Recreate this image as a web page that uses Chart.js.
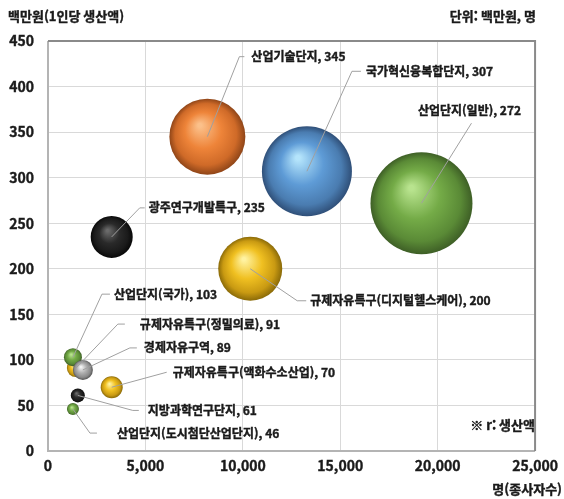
<!DOCTYPE html>
<html lang="ko">
<head>
<meta charset="utf-8">
<title>종사자수 대비 1인당 생산액</title>
<script src="https://cdn.jsdelivr.net/npm/chart.js@4.4.1/dist/chart.umd.min.js"></script>
<style>
  html, body { margin: 0; padding: 0; background: #fff; }
  .wrap { width: 564px; height: 499px; }
</style>
</head>
<body>
<div class="wrap"><canvas id="bubbleChart" width="564" height="499"></canvas></div>
<script>
// 데이터
const names = [
  "산업단지(일반)", "국가혁신융복합단지", "산업기술단지", "규제자유특구(디지털헬스케어)",
  "광주연구개발특구", "규제자유특구(액화수소산업)", "규제자유특구(정밀의료)",
  "산업단지(국가)", "경제자유구역", "지방과학연구단지", "산업단지(도시첨단산업단지)"
];
const workers = [19170, 13290, 8180, 10380, 3270, 3270, 1430, 1280, 1790, 1530, 1280];
const perCapita = [272, 307, 345, 200, 235, 70, 91, 103, 89, 61, 46];
const output = [51, 45, 38, 32, 21, 11, 9, 9, 10, 7, 6];
const groups = ["green", "blue", "orange", "yellow", "black", "yellow", "yellow", "green", "gray", "black", "green"];

const xTicks = [0, 5000, 10000, 15000, 20000, 25000];
const yTicks = [0, 50, 100, 150, 200, 250, 300, 350, 400, 450];

// 색상: 밝은 부분, 기본, 가장자리, 어두운 부분
const palette = {
  green:  ["#b8e38e", "#74ab47", "#5a8a36", "#3e5f26"],
  blue:   ["#b4e4fb", "#5e9bd6", "#4a7cb0", "#2f4f78"],
  orange: ["#fbc08a", "#ee8439", "#cf6a28", "#8f4518"],
  yellow: ["#fff2a0", "#f0c021", "#c99a12", "#8a6a08"],
  black:  ["#6a6a6a", "#2a2a2a", "#1a1a1a", "#080808"],
  gray:   ["#f4f4f4", "#b0b0b0", "#8a8a8a", "#555555"]
};

// 라벨 위치 (버블 중심 기준 꺾임점, 가로선 길이, 글자 간격)
const labelLayout = [
  { ex: 50, ey: -80, hx: 0, gap: 0, above: true },
  { ex: 45, ey: -100, hx: 9, gap: 5 },
  { ex: 32, ey: -80, hx: 5, gap: 7 },
  { ex: 47, ey: 32, hx: 9, gap: 4 },
  { ex: 28, ey: -29, hx: 5, gap: 4 },
  { ex: 55, ey: -15, hx: 0, gap: 6 },
  { ex: 42, ey: -44, hx: 7, gap: 15 },
  { ex: 29, ey: -63, hx: 8, gap: 4 },
  { ex: 47, ey: -22, hx: 7, gap: 7 },
  { ex: 55, ey: 15, hx: 6, gap: 9 },
  { ex: 17, ey: 24, hx: 7, gap: 20 }
];

const FONT = "'Noto Sans CJK KR', 'Noto Sans', sans-serif";

const points = workers.map((w, i) => ({ x: w, y: perCapita[i], r: output[i] }));

function sphere(context) {
  const chart = context.chart;
  const raw = context.raw;
  const c = palette[groups[context.dataIndex]] || palette.gray;
  if (!raw || !chart.scales.x) return c[1];
  const cx = chart.scales.x.getPixelForValue(raw.x);
  const cy = chart.scales.y.getPixelForValue(raw.y);
  const r = raw.r;
  if (!isFinite(cx) || !isFinite(cy)) return c[1];
  const g = chart.ctx.createRadialGradient(cx - r * 0.2, cy - r * 0.3, r * 0.05, cx, cy, r);
  g.addColorStop(0, c[0]);
  g.addColorStop(0.45, c[1]);
  g.addColorStop(0.8, c[2]);
  g.addColorStop(1, c[3]);
  return g;
}

// 진한 글씨 (얇은 외곽선으로 굵게)
function heavyText(ctx, text, x, y) {
  ctx.strokeText(text, x, y);
  ctx.fillText(text, x, y);
}

const extras = {
  id: "extras",
  beforeDatasetsDraw(chart) {
    const a = chart.chartArea;
    const ctx = chart.ctx;
    ctx.save();
    ctx.lineWidth = 2;
    ctx.strokeStyle = "#b4b4b4";
    ctx.beginPath();
    ctx.moveTo(a.left, a.top);
    ctx.lineTo(a.left, a.bottom);
    ctx.lineTo(a.right, a.bottom);
    ctx.stroke();
    ctx.strokeStyle = "#8a8a8a";
    ctx.beginPath();
    ctx.moveTo(a.left, a.top);
    ctx.lineTo(a.right, a.top);
    ctx.lineTo(a.right, a.bottom);
    ctx.stroke();
    ctx.restore();
  },
  afterDatasetsDraw(chart) {
    const ctx = chart.ctx;
    const meta = chart.getDatasetMeta(0);
    ctx.save();
    ctx.font = "bold 12px " + FONT;
    ctx.fillStyle = "#1a1a1a";
    ctx.textBaseline = "middle";
    meta.data.forEach((el, i) => {
      const L = labelLayout[i];
      const ex = el.x + L.ex;
      const ey = el.y + L.ey;
      ctx.strokeStyle = "#a0a0a0";
      ctx.lineWidth = 1;
      ctx.beginPath();
      ctx.moveTo(el.x, el.y);
      ctx.lineTo(ex, ey);
      ctx.lineTo(ex + L.hx, ey);
      ctx.stroke();
      const text = names[i] + ", " + perCapita[i];
      ctx.strokeStyle = "#1a1a1a";
      ctx.lineWidth = 0.4;
      if (L.above) {
        ctx.textAlign = "center";
        heavyText(ctx, text, ex - 2, ey - 13);
      } else {
        ctx.textAlign = "left";
        heavyText(ctx, text, ex + L.hx + L.gap, ey);
      }
    });
    ctx.restore();
  },
  afterDraw(chart) {
    const ctx = chart.ctx;
    ctx.save();
    ctx.fillStyle = "#1a1a1a";
    ctx.strokeStyle = "#1a1a1a";
    ctx.lineWidth = 0.4;
    ctx.textBaseline = "middle";
    ctx.font = "bold 13px " + FONT;
    ctx.textAlign = "left";
    heavyText(ctx, "백만원(1인당 생산액)", 8, 16);
    ctx.textAlign = "right";
    heavyText(ctx, "단위: 백만원, 명", 536, 16);
    heavyText(ctx, "※ r: 생산액", 535, 425);
    heavyText(ctx, "명(종사자수)", 562, 489);
    ctx.restore();
  }
};

new Chart(document.getElementById("bubbleChart"), {
  type: "bubble",
  data: {
    datasets: [{
      data: points,
      backgroundColor: sphere,
      borderWidth: 0,
      hoverBorderWidth: 0
    }]
  },
  options: {
    responsive: false,
    animation: false,
    events: [],
    layout: { autoPadding: false, padding: { top: 41, right: 27, left: 0, bottom: 0 } },
    plugins: { legend: { display: false }, tooltip: { enabled: false } },
    scales: {
      x: {
        type: "linear",
        min: xTicks[0],
        max: xTicks[xTicks.length - 1],
        afterBuildTicks: (s) => { s.ticks = xTicks.map(v => ({ value: v })); },
        afterFit: (s) => { s.height = 48; },
        grid: { color: "#d9d9d9", drawTicks: false },
        border: { display: false },
        ticks: {
          padding: 6,
          color: "#1a1a1a",
          textStrokeColor: "#1a1a1a",
          textStrokeWidth: 0.4,
          font: { family: FONT, size: 14, weight: "bold" },
          maxRotation: 0,
          callback: (v) => v.toLocaleString("en-US")
        }
      },
      y: {
        type: "linear",
        min: yTicks[0],
        max: yTicks[yTicks.length - 1],
        afterBuildTicks: (s) => { s.ticks = yTicks.map(v => ({ value: v })); },
        afterFit: (s) => { s.width = 48; },
        grid: { color: "#d9d9d9", drawTicks: false },
        border: { display: false },
        ticks: {
          padding: 14,
          color: "#1a1a1a",
          textStrokeColor: "#1a1a1a",
          textStrokeWidth: 0.4,
          font: { family: FONT, size: 14, weight: "bold" }
        }
      }
    }
  },
  plugins: [extras]
});
</script>
</body>
</html>
